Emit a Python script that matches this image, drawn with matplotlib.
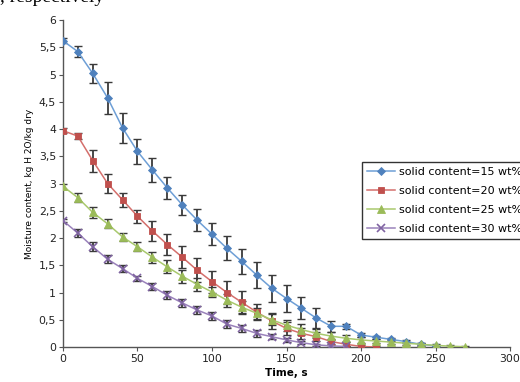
import matplotlib

matplotlib.use("Agg")
import matplotlib.pyplot as plt
from matplotlib.ticker import FuncFormatter

# moisture content vs drying time, one series per solid content
labels = [
    "solid content=15 wt%",
    "solid content=20 wt%",
    "solid content=25 wt%",
    "solid content=30 wt%",
]
step = 10
moist_15 = [5.62, 5.42, 5.02, 4.57, 4.02, 3.59, 3.25, 2.92, 2.61, 2.33, 2.07, 1.81, 1.57,
            1.32, 1.08, 0.89, 0.71, 0.53, 0.38, 0.38, 0.22, 0.18, 0.14, 0.10, 0.05, 0.02]
err_15 = [0.05, 0.10, 0.18, 0.30, 0.27, 0.23, 0.22, 0.20, 0.18, 0.20, 0.20, 0.22, 0.23,
          0.24, 0.25, 0.25, 0.20, 0.18, 0.10, 0.05, 0.04, 0.03, 0.03, 0.02, 0.02, 0.02]
moist_20 = [3.97, 3.87, 3.42, 3.00, 2.70, 2.40, 2.13, 1.88, 1.65, 1.41, 1.20, 1.00, 0.82,
            0.64, 0.48, 0.34, 0.25, 0.19, 0.10, 0.05, 0.01, 0.0]
err_20 = [0.05, 0.05, 0.20, 0.17, 0.13, 0.12, 0.18, 0.20, 0.20, 0.22, 0.20, 0.22, 0.20,
          0.15, 0.15, 0.12, 0.10, 0.08, 0.05, 0.04, 0.03, 0.02]
moist_25 = [2.95, 2.74, 2.47, 2.26, 2.02, 1.84, 1.65, 1.47, 1.30, 1.15, 1.01, 0.86, 0.73,
            0.62, 0.50, 0.40, 0.32, 0.25, 0.20, 0.16, 0.13, 0.11, 0.09, 0.07, 0.05, 0.03,
            0.015, 0.005]
err_25 = [0.05, 0.08, 0.10, 0.08, 0.07, 0.08, 0.10, 0.12, 0.12, 0.12, 0.10, 0.12, 0.12,
          0.10, 0.10, 0.10, 0.10, 0.08, 0.08, 0.06, 0.05, 0.04, 0.04, 0.03, 0.03, 0.02,
          0.02, 0.02]
moist_30 = [2.32, 2.09, 1.84, 1.61, 1.44, 1.26, 1.11, 0.95, 0.81, 0.68, 0.57, 0.42, 0.34,
            0.25, 0.19, 0.13, 0.08, 0.04, 0.02, 0.01]
err_30 = [0.02, 0.08, 0.08, 0.07, 0.06, 0.05, 0.06, 0.07, 0.08, 0.08, 0.07, 0.07, 0.07,
          0.06, 0.05, 0.04, 0.03, 0.02, 0.02, 0.01]

x_ticks = [0, 50, 100, 150, 200, 250, 300]
y_ticks = [0, 0.5, 1, 1.5, 2, 2.5, 3, 3.5, 4, 4.5, 5, 5.5, 6]

series = [moist_15, moist_20, moist_25, moist_30]
errors = [err_15, err_20, err_25, err_30]
line_colors = ["#6E9FD6", "#D46F6C", "#A9C96E", "#9A82BB"]
marker_colors = ["#4F81BD", "#C0504D", "#9BBB59", "#8064A2"]
markers = ["D", "s", "^", "x"]
msizes = [4, 5, 5.5, 5.5]

fig = plt.figure(figsize=(5.2, 3.82), dpi=100)
fig.patch.set_facecolor("white")
ax = fig.add_axes([0.121, 0.0916, 0.86, 0.856])

for vals, errs, lab, lc, mc, mk, ms in zip(series, errors, labels, line_colors,
                                           marker_colors, markers, msizes):
    t = [i * step for i in range(len(vals))]
    ax.errorbar(t, vals, yerr=errs, fmt="none", ecolor="#3a3a3a", elinewidth=1.3,
                capsize=3, capthick=1.0, zorder=2)
    ax.plot(t, vals, color=lc, lw=1.1, marker=mk, ms=ms, mfc=mc, mec=mc,
            mew=1.2 if mk == "x" else 0.6, label=lab, zorder=3)

ax.set_xlim(0, 300)
ax.set_ylim(0, 6)
ax.set_xticks(x_ticks)
ax.set_yticks(y_ticks)
ax.yaxis.set_major_formatter(FuncFormatter(lambda v, p: f"{v:g}".replace(".", ",")))
ax.tick_params(direction="out", length=3, width=0.8, colors="#555555",
               labelsize=7.8, labelcolor="#222222", pad=2)
for side in ("top", "right"):
    ax.spines[side].set_visible(False)
for side in ("left", "bottom"):
    ax.spines[side].set_color("#555555")
    ax.spines[side].set_linewidth(1.0)

ax.set_xlabel("Time, s", fontsize=7.5, fontweight="bold", labelpad=3)
ax.set_ylabel("Moisture content, kg H 2O/kg dry", fontsize=6.5, labelpad=3)

leg = fig.legend(loc="upper left", bbox_to_anchor=(0.696, 0.576), fontsize=8,
                 frameon=True, fancybox=False, edgecolor="black", handlelength=2.5,
                 borderpad=0.45, labelspacing=0.8, handletextpad=0.35,
                 borderaxespad=0)
leg.get_frame().set_linewidth(1.0)

# cropped caption line above the chart
fig.text(0.0, 0.9955, ", respectively", fontsize=14, family="Liberation Serif",
         ha="left", va="baseline")

fig.savefig("out.png", dpi=100, facecolor="white")
